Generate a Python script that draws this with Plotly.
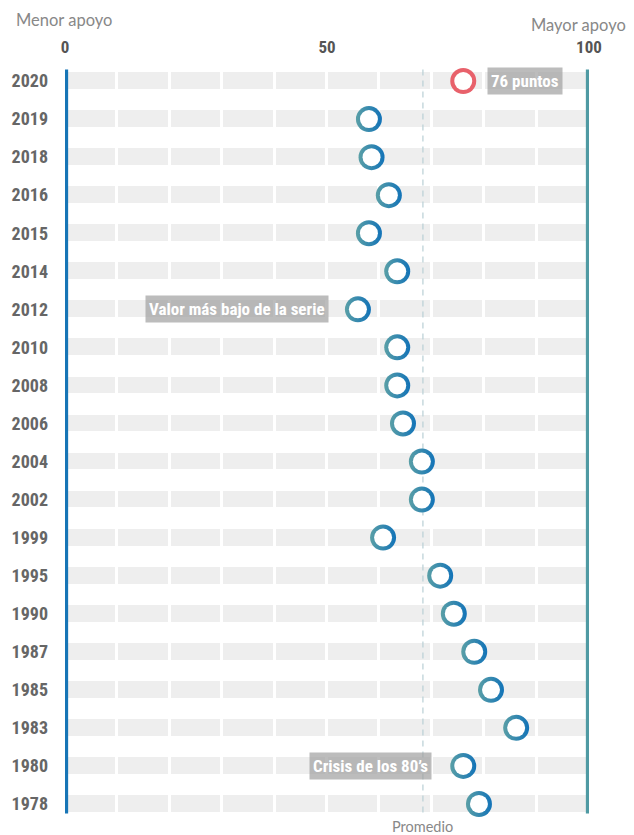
import plotly.graph_objects as go

# Apoyo por año (0 = menor apoyo, 100 = mayor apoyo)
years = ['2020', '2019', '2018', '2016', '2015', '2014', '2012', '2010', '2008', '2006',
         '2004', '2002', '1999', '1995', '1990', '1987', '1985', '1983', '1980', '1978']
support = [76.0, 58.0, 58.5, 61.8, 58.0, 63.4, 55.9, 63.4, 63.4, 64.5,
           68.1, 68.1, 60.7, 71.6, 74.2, 78.1, 81.3, 86.1, 76.0, 79.0]
x_ticks = [0, 50, 100]

rows = list(range(len(years)))
avg = sum(support) / len(support)

TEAL = '#5a9fa6'
BLUE = '#1273b8'
RED = '#e8616b'
COND = 'Liberation Sans Narrow, Roboto Condensed, Roboto, sans-serif'

fig = go.Figure()

# gray background bands, split into 10-point segments by white gaps
for start in range(0, 100, 10):
    fig.add_trace(go.Bar(
        y=rows, x=[10] * len(rows), base=[start] * len(rows),
        orientation='h', width=0.52,
        marker=dict(color='#eeeeee', line=dict(color='white', width=3)),
        hoverinfo='skip', showlegend=False,
    ))

# average line
fig.add_trace(go.Scatter(
    x=[avg, avg], y=[-0.3, len(rows) - 0.7], mode='lines',
    line=dict(color='#b9cfd5', width=1.2, dash='6px,5px'),
    hoverinfo='skip', showlegend=False,
))

# rings: gradient disc + white centre
outer = [RED if y == '2020' else TEAL for y in years]
outer_end = [RED if y == '2020' else BLUE for y in years]
fig.add_trace(go.Scatter(
    x=support, y=rows, mode='markers',
    marker=dict(size=26, color=outer, line=dict(width=0),
                gradient=dict(type='horizontal', color=outer_end)),
    hoverinfo='skip', showlegend=False,
))
fig.add_trace(go.Scatter(
    x=support, y=rows, mode='markers',
    marker=dict(size=18, color='white', line=dict(width=0)),
    hovertemplate='%{x}<extra></extra>', showlegend=False,
))

# blue edge bars at 0 and 100
for xv in (0, 100):
    fig.add_shape(type='rect', xref='x', yref='y', x0=xv - 0.6, x1=xv, y0=-0.3, y1=len(rows) - 0.75,
                  fillcolor='#4f9aa3', line_width=0, layer='above')
    fig.add_shape(type='rect', xref='x', yref='y', x0=xv, x1=xv + 0.6, y0=-0.3, y1=len(rows) - 0.75,
                  fillcolor='#1775b6', line_width=0, layer='above')

box = dict(font=dict(family=COND, size=17, color='white', weight='bold'),
           bgcolor='rgba(160,160,160,0.7)', borderpad=3, showarrow=False,
           xref='x', yref='y', yanchor='middle')
i2020 = years.index('2020')
i2012 = years.index('2012')
i1980 = years.index('1980')
fig.add_annotation(text='76 puntos', x=support[i2020] + 4.5, y=i2020, xanchor='left', **box)
fig.add_annotation(text='Valor más bajo de la serie', x=support[i2012] - 5.6, y=i2012,
                   xanchor='right', **box)
fig.add_annotation(text='Crisis de los 80’s', x=support[i1980] - 6, y=i1980, xanchor='right', **box)

side = dict(font=dict(family='Lato, sans-serif', size=16.5, color='#888888'),
            showarrow=False, xref='paper', yref='paper', yanchor='middle')
fig.add_annotation(text='Menor apoyo', x=-0.097, y=1.055, xanchor='left', **side)
fig.add_annotation(text='Mayor apoyo', x=1.075, y=1.049, xanchor='right', **side)
fig.add_annotation(text='Promedio', x=avg, xref='x', y=-0.005, yref='paper', yanchor='middle',
                   xanchor='center', showarrow=False,
                   font=dict(family='Lato, sans-serif', size=14.5, color='#888888'))

# page body has an 8px margin, so the figure is drawn 8px smaller and shifted
fig.update_layout(
    width=626, height=827,
    margin=dict(l=57, r=45, t=54, b=12),
    paper_bgcolor='white', plot_bgcolor='white',
    barmode='overlay', bargap=0,
    showlegend=False,
    xaxis=dict(range=[0, 100], side='top', tickvals=x_ticks, showgrid=False, zeroline=False,
               showline=False, ticks='', fixedrange=True, ticklabelstandoff=5, automargin=False,
               tickfont=dict(family=COND, size=17, color='#555555', weight='bold')),
    yaxis=dict(range=[len(rows) - 0.5, -0.5], tickvals=rows, ticktext=years, showgrid=False,
               zeroline=False, showline=False, ticks='', ticklabelstandoff=16, fixedrange=True,
               automargin=False,
               tickfont=dict(family=COND, size=18, color='#666666', weight='bold')),
)

fig.write_html('out.html')
